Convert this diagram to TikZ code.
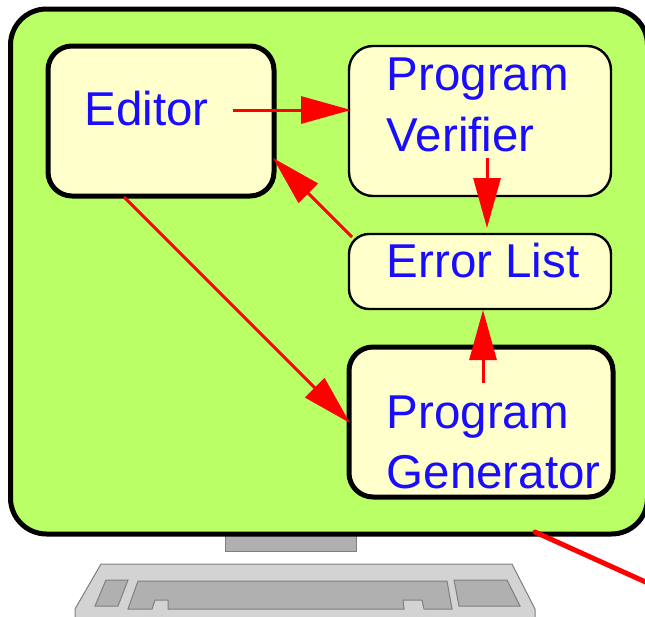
\documentclass[tikz,border=0pt]{standalone}
\usepackage{fontspec}
\setmainfont{Liberation Sans}
\usetikzlibrary{arrows.meta}
\definecolor{screen}{HTML}{BBFF66}
\definecolor{boxfill}{HTML}{FFFFCC}
\definecolor{labelblue}{HTML}{1A0DFF}
\definecolor{keyfill}{HTML}{D3D3D3}
\definecolor{keydark}{HTML}{B0B0B0}
\definecolor{keyline}{HTML}{7F7F7F}
\tikzset{
  box/.style={draw=black,fill=boxfill,rounded corners=24pt,inner sep=0pt},
  thinbox/.style={box,line width=2.4pt},
  thickbox/.style={box,line width=5pt},
  txt/.style={text=labelblue,font=\fontsize{47.5}{61}\selectfont,anchor=base west,inner sep=0pt,align=left},
  flow/.style={draw=red,line width=3pt,-{Triangle[length=50pt,width=27pt,fill=red]}},
  keybody/.style={draw=keyline,line width=1pt,fill=keyfill},
  keypart/.style={draw=keyline,line width=1pt,fill=keydark},
}
\begin{document}
\begin{tikzpicture}[x=1pt,y=-1pt]
\useasboundingbox (0,0) rectangle (645,616);
\clip (0,0) rectangle (645,616);
% monitor base and keyboard
\draw[keypart] (225,530) rectangle (356,551);
\draw[keybody] (75,620) -- (75,609) -- (101,564) -- (512,564) -- (535,609) -- (535,620) -- cycle;
\draw[keypart] (106,580) -- (128,580) -- (118,606) -- (95,606) -- cycle;
\draw[keypart] (138,581) -- (447,581) -- (452,609) -- (424,609) -- (422,600) -- (403,600) -- (404,609) -- (168,609) -- (168,600) -- (155,600) -- (152,609) -- (128,609) -- cycle;
\draw[keypart] (454,580) -- (507,580) -- (520,606) -- (459,606) -- cycle;
% screen
\node[draw=black,fill=screen,line width=5pt,rounded corners=36pt,inner sep=0pt,minimum width=637pt,minimum height=525pt] (screen) at (329,271.5) {};
% boxes
\node[thickbox,minimum width=226pt,minimum height=150pt] (editor) at (161,121) {};
\node[thinbox,minimum width=262pt,minimum height=150pt] (verifier) at (480,121) {};
\node[thinbox,rounded corners=20pt,minimum width=262pt,minimum height=75pt] (errors) at (480,271.5) {};
\node[thickbox,minimum width=264pt,minimum height=150pt] (generator) at (481,422) {};
% labels
\node[txt] (editortext) at (84.5,125) {Editor};
\node[txt] (verifierlabel) at (386.5,151) {Verifier};
\node[txt] (verifiertop) at (386.5,90) {Program};
\node[txt] (errorstext) at (386.5,277) {Error List};
\node[txt] (generatortop) at (386.5,428) {Program};
\node[txt] (generatorlabel) at (386.5,488) {Generator};
% connector ends
\coordinate (e1) at (233,110);
\coordinate (v1) at (351,110);
\coordinate (v2) at (487,158);
\coordinate (l2) at (487,228);
\coordinate (l3) at (352,237);
\coordinate (e3) at (273,158);
\coordinate (g4) at (483,383);
\coordinate (l4) at (483,310);
\coordinate (e5) at (124,197);
\coordinate (g5) at (350,423);
\coordinate (s6) at (535,532);
\coordinate (s7) at (650,584);
% connectors
\draw[flow] (e1) -- (v1);
\draw[flow] (v2) -- (l2);
\draw[flow] (l3) -- (e3);
\draw[flow] (g4) -- (l4);
\draw[flow] (e5) -- (g5);
\draw[red,line width=5pt,line cap=round] (s6) -- (s7);
\end{tikzpicture}
\end{document}
